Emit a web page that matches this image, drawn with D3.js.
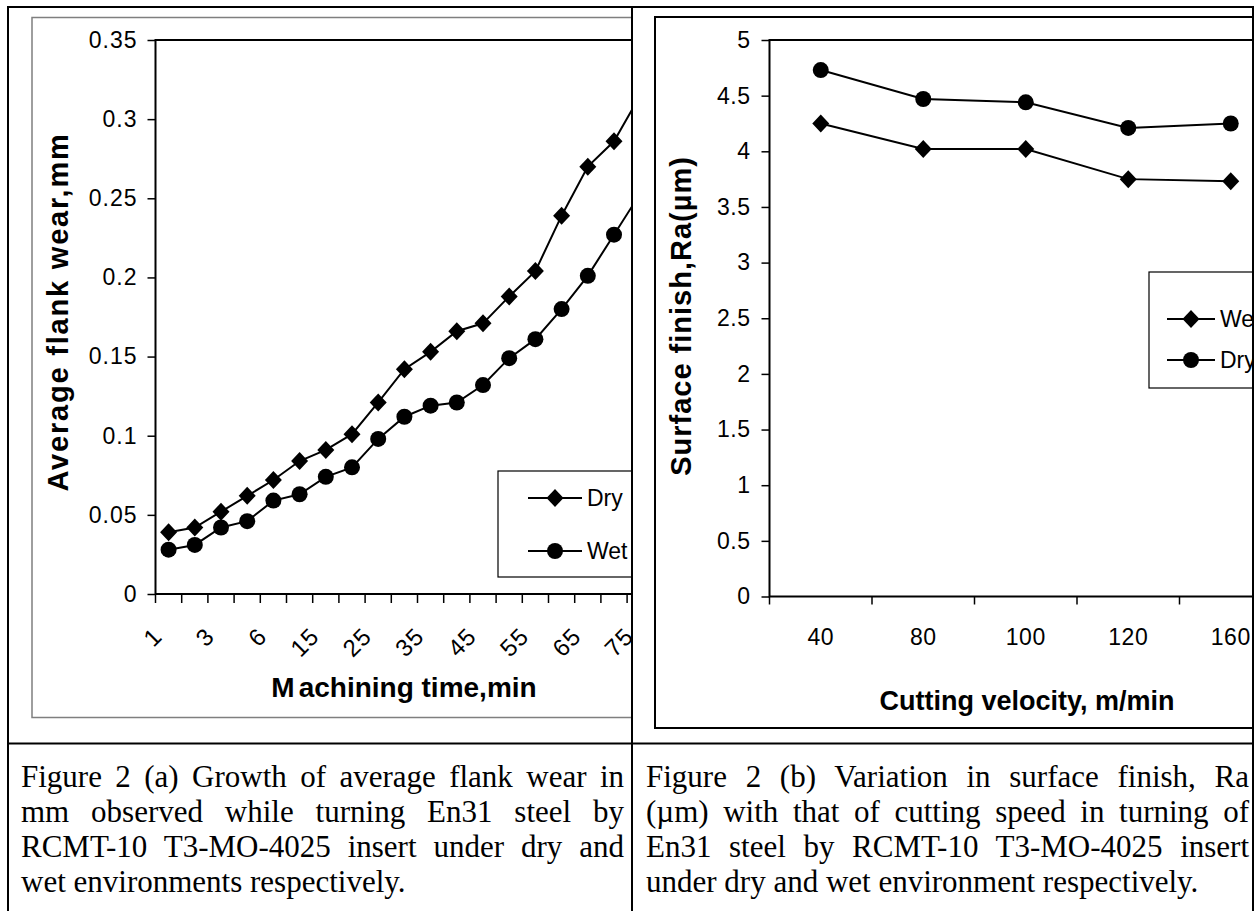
<!DOCTYPE html>
<html>
<head>
<meta charset="utf-8">
<title>flank wear and surface finish</title>
<script src="https://cdn.jsdelivr.net/npm/d3@7"></script>
<style>
body {margin:0;background:#fff;}
#wrap {position:relative;width:1255px;height:911px;overflow:hidden;}
svg {position:absolute;left:0;top:0;}
.cap {position:absolute;width:603px;font-family:"Liberation Serif","Times New Roman",serif;font-size:31px;line-height:35px;color:#000;}
.cap div {text-align:justify;text-align-last:justify;white-space:nowrap;}
.cap div.last {text-align:left;text-align-last:left;}
</style>
</head>
<body>
<div id="wrap">
<svg id="page" width="1255" height="911"></svg>
<div class="cap" id="capA" style="left:21px;top:759px;"></div>
<div class="cap" id="capB" style="left:646px;top:759px;"></div>
</div>
<script>
// (a) flank wear vs machining time
var timeCats = ["1","2","3","4","6","10","15","20","25","30","35","40","45","50","55","60","65","70","75"];
var timeLabels = ["1","3","6","15","25","35","45","55","65","75"];
var dryWear = [0.039,0.042,0.052,0.062,0.072,0.084,0.091,0.101,0.121,0.142,0.153,0.166,0.171,0.188,0.204,0.239,0.270,0.286,0.315];
var wetWear = [0.028,0.031,0.042,0.046,0.059,0.063,0.074,0.080,0.098,0.112,0.119,0.121,0.132,0.149,0.161,0.180,0.201,0.227,0.253];
var wearTicks = [0,0.05,0.1,0.15,0.2,0.25,0.3,0.35];

// (b) surface finish vs cutting velocity
var speedCats = ["40","80","100","120","160"];
var wetRa = [4.25,4.02,4.02,3.75,3.73];
var dryRa = [4.73,4.47,4.44,4.21,4.25];
var raTicks = [0,0.5,1,1.5,2,2.5,3,3.5,4,4.5,5];

var captionA = ["Figure 2 (a) Growth of average flank wear in",
  "mm observed while turning En31 steel by",
  "RCMT-10 T3-MO-4025 insert under dry and",
  "wet environments respectively."];
var captionB = ["Figure 2 (b) Variation in surface finish, Ra",
  "(\u00b5m) with that of cutting speed in turning of",
  "En31 steel by RCMT-10 T3-MO-4025 insert",
  "under dry and wet environment respectively."];

var font = "'Liberation Sans', Arial, sans-serif";
var svg = d3.select("#page");

function diamond(w, h) {
  return "M0," + (-h) + "L" + w + ",0L0," + h + "L" + (-w) + ",0Z";
}

function addMarker(g, type, x, y) {
  if (type == "diamond") {
    g.append("path").attr("d", diamond(8.5, 9)).attr("transform", "translate(" + x + "," + y + ")").attr("fill", "#000");
  } else {
    g.append("circle").attr("cx", x).attr("cy", y).attr("r", 8).attr("fill", "#000");
  }
}

var defs = svg.append("defs");
defs.append("clipPath").attr("id", "clipA").append("rect").attr("x", 9).attr("y", 8).attr("width", 622).attr("height", 735);
defs.append("clipPath").attr("id", "clipB").append("rect").attr("x", 633).attr("y", 8).attr("width", 619).attr("height", 735);

// ---------- chart (a)
var ga = svg.append("g").attr("clip-path", "url(#clipA)");
ga.append("rect").attr("x", 32).attr("y", 17.5).attr("width", 700).attr("height", 700)
  .attr("fill", "#fff").attr("stroke", "#7f7f7f").attr("stroke-width", 1.5);

var xA = d3.scaleBand().domain(timeCats).range([155.5, 155.5 + 26.2 * timeCats.length]);
var yA = d3.scaleLinear().domain([0, 0.35]).range([594, 40]);

ga.append("rect").attr("x", xA.range()[0]).attr("y", yA(0.35))
  .attr("width", xA.range()[1] - xA.range()[0]).attr("height", yA(0) - yA(0.35))
  .attr("fill", "none").attr("stroke", "#000").attr("stroke-width", 2);

var axA = ga.append("g").attr("transform", "translate(" + xA.range()[0] + ",0)")
  .call(d3.axisLeft(yA).tickValues(wearTicks).tickSize(8).tickPadding(10).tickFormat(function(d){return String(d);}));
axA.select(".domain").remove();
axA.selectAll("line").attr("stroke", "#000").attr("stroke-width", 1.5);
axA.selectAll("text").attr("font-family", font).attr("font-size", 23).attr("letter-spacing", 1).attr("fill", "#000");

// category ticks sit between categories
ga.selectAll(".xtick").data(timeCats.concat(["end"])).enter().append("line")
  .attr("x1", function(d){return d == "end" ? xA.range()[1] : xA(d);})
  .attr("x2", function(d){return d == "end" ? xA.range()[1] : xA(d);})
  .attr("y1", yA(0)).attr("y2", yA(0) + 9)
  .attr("stroke", "#000").attr("stroke-width", 1.5);

ga.selectAll(".xlab").data(timeLabels).enter().append("text")
  .attr("transform", function(d){
    var cx = xA(d) + xA.bandwidth() / 2 - 11;
    return "translate(" + cx + "," + (yA(0) + 38) + ") rotate(-45)";
  })
  .attr("text-anchor", "end").attr("dy", "0.35em")
  .attr("font-family", font).attr("font-size", 24).attr("letter-spacing", 1).text(function(d){return d;});

var lineA = d3.line()
  .x(function(d, i){return xA(timeCats[i]) + xA.bandwidth() / 2;})
  .y(function(d){return yA(d);});

[[dryWear, "diamond"], [wetWear, "circle"]].forEach(function(s){
  ga.append("path").attr("d", lineA(s[0])).attr("fill", "none").attr("stroke", "#000").attr("stroke-width", 2);
  s[0].forEach(function(v, i){
    addMarker(ga, s[1], xA(timeCats[i]) + xA.bandwidth() / 2, yA(v));
  });
});

// legend (a)
ga.append("rect").attr("x", 498).attr("y", 471).attr("width", 160).attr("height", 106)
  .attr("fill", "#fff").attr("stroke", "#000").attr("stroke-width", 1.2);
[["Dry", "diamond", 498], ["Wet", "circle", 551]].forEach(function(e){
  ga.append("line").attr("x1", 528).attr("x2", 582).attr("y1", e[2]).attr("y2", e[2]).attr("stroke", "#000").attr("stroke-width", 2);
  addMarker(ga, e[1], 555, e[2]);
  ga.append("text").attr("x", 587).attr("y", e[2]).attr("dy", "0.35em")
    .attr("font-family", font).attr("font-size", 23).text(e[0]);
});

ga.append("text").attr("transform", "translate(68,312) rotate(-90)").attr("text-anchor", "middle")
  .attr("font-family", font).attr("font-weight", "bold").attr("font-size", 29).attr("letter-spacing", 1.8)
  .text("Average flank wear,mm");
var tA = ga.append("text").attr("x", 404).attr("y", 697).attr("text-anchor", "middle")
  .attr("font-family", font).attr("font-weight", "bold").attr("font-size", 28);
tA.append("tspan").text("M");
tA.append("tspan").attr("dx", 4).text("achining time,min");

// ---------- chart (b)
var gb = svg.append("g").attr("clip-path", "url(#clipB)");
gb.append("rect").attr("x", 655).attr("y", 17).attr("width", 700).attr("height", 711)
  .attr("fill", "#fff").attr("stroke", "#000").attr("stroke-width", 2);

var xB = d3.scaleBand().domain(speedCats).range([769.5, 769.5 + 102.5 * speedCats.length]);
var yB = d3.scaleLinear().domain([0, 5]).range([596.5, 40]);

gb.append("rect").attr("x", xB.range()[0]).attr("y", yB(5))
  .attr("width", xB.range()[1] - xB.range()[0]).attr("height", yB(0) - yB(5))
  .attr("fill", "none").attr("stroke", "#000").attr("stroke-width", 2);

var axB = gb.append("g").attr("transform", "translate(" + xB.range()[0] + ",0)")
  .call(d3.axisLeft(yB).tickValues(raTicks).tickSize(8).tickPadding(11).tickFormat(function(d){return String(d);}));
axB.select(".domain").remove();
axB.selectAll("line").attr("stroke", "#000").attr("stroke-width", 1.5);
axB.selectAll("text").attr("font-family", font).attr("font-size", 23).attr("letter-spacing", 0.5).attr("fill", "#000");

gb.selectAll(".xtick").data(speedCats.concat(["end"])).enter().append("line")
  .attr("x1", function(d){return d == "end" ? xB.range()[1] : xB(d);})
  .attr("x2", function(d){return d == "end" ? xB.range()[1] : xB(d);})
  .attr("y1", yB(0)).attr("y2", yB(0) + 8)
  .attr("stroke", "#000").attr("stroke-width", 1.5);

gb.selectAll(".xlab").data(speedCats).enter().append("text")
  .attr("x", function(d){return xB(d) + xB.bandwidth() / 2;}).attr("y", 645)
  .attr("text-anchor", "middle").attr("font-family", font).attr("font-size", 23).attr("letter-spacing", 0.5)
  .text(function(d){return d;});

var lineB = d3.line()
  .x(function(d, i){return xB(speedCats[i]) + xB.bandwidth() / 2;})
  .y(function(d){return yB(d);});

[[wetRa, "diamond"], [dryRa, "circle"]].forEach(function(s){
  gb.append("path").attr("d", lineB(s[0])).attr("fill", "none").attr("stroke", "#000").attr("stroke-width", 2);
  s[0].forEach(function(v, i){
    addMarker(gb, s[1], xB(speedCats[i]) + xB.bandwidth() / 2, yB(v));
  });
});

gb.append("rect").attr("x", 1149).attr("y", 272).attr("width", 160).attr("height", 116)
  .attr("fill", "#fff").attr("stroke", "#000").attr("stroke-width", 1.2);
[["Wet", "diamond", 319], ["Dry", "circle", 360]].forEach(function(e){
  gb.append("line").attr("x1", 1167).attr("x2", 1215).attr("y1", e[2]).attr("y2", e[2]).attr("stroke", "#000").attr("stroke-width", 2);
  addMarker(gb, e[1], 1191, e[2]);
  gb.append("text").attr("x", 1220).attr("y", e[2]).attr("dy", "0.35em")
    .attr("font-family", font).attr("font-size", 23).text(e[0]);
});

gb.append("text").attr("transform", "translate(691,316) rotate(-90)").attr("text-anchor", "middle")
  .attr("font-family", font).attr("font-weight", "bold").attr("font-size", 29).attr("letter-spacing", 1)
  .text("Surface finish,Ra(\u00b5m)");
gb.append("text").attr("x", 1027).attr("y", 710).attr("text-anchor", "middle")
  .attr("font-family", font).attr("font-weight", "bold").attr("font-size", 27)
  .text("Cutting velocity, m/min");

// ---------- table rules
var rules = [[8, 7, 8, 911], [7, 7, 1254, 7], [1253, 7, 1253, 911], [632, 7, 632, 911], [8, 743.5, 1253, 743.5]];
svg.selectAll(".rule").data(rules).enter().append("line")
  .attr("x1", function(d){return d[0];}).attr("y1", function(d){return d[1];})
  .attr("x2", function(d){return d[2];}).attr("y2", function(d){return d[3];})
  .attr("stroke", "#000").attr("stroke-width", 2);

// captions, one line per div so the breaks follow the original
[["#capA", captionA], ["#capB", captionB]].forEach(function(c){
  d3.select(c[0]).selectAll("div").data(c[1]).enter().append("div")
    .attr("class", function(d, i){return i == c[1].length - 1 ? "last" : null;})
    .text(function(d){return d;});
});
</script>
</body>
</html>
